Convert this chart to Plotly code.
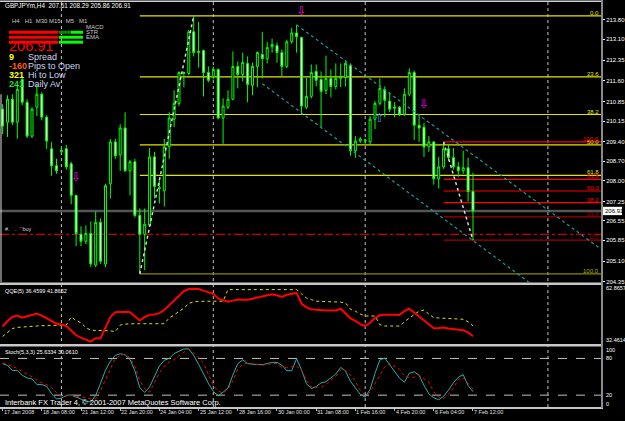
import plotly.graph_objects as go

W, H = 625, 421
def px(x): return x / W
def py(y): return 1 - y / H

FONT = "Liberation Sans, Arial, sans-serif"

# ---------------- data ----------------
bar_index = list(range(97))
open_ = [210.58,210.11,210.94,210.11,211.65,210.83,209.61,210.65,211.12,210.29,
         209.15,208.54,209.05,209.15,208.61,207.47,206.07,205.82,206.10,204.96,
         206.50,205.00,207.89,209.40,208.93,209.90,208.36,208.68,206.75,206.07,
         206.39,208.86,207.75,207.64,209.22,210.22,210.79,211.90,211.87,213.37,
         212.62,212.69,211.90,211.76,212.01,210.26,210.65,210.94,212.12,211.83,
         212.23,211.44,212.12,212.55,212.40,212.83,212.87,212.62,212.12,213.01,
         213.33,213.16,210.65,211.04,211.94,211.65,211.26,211.69,211.40,211.69,
         211.72,212.15,209.08,209.43,209.43,209.40,210.22,210.79,211.29,210.87,
         210.61,210.65,210.40,211.12,211.90,210.00,209.93,209.22,209.40,208.07,
         208.50,209.15,208.83,208.50,208.36,208.47,207.61]
high_ = [210.76,211.08,211.12,211.47,211.76,210.94,210.65,211.47,211.19,210.36,
         209.40,208.79,209.20,209.29,208.68,207.50,206.36,206.39,206.53,206.89,
         206.64,207.89,209.51,209.51,210.04,210.47,208.75,208.79,207.00,207.00,
         209.18,209.04,208.07,209.51,210.47,211.26,211.94,211.94,213.44,213.94,
         213.73,212.73,212.12,212.12,212.05,210.97,211.26,212.66,212.30,212.62,
         212.48,212.26,212.66,213.37,213.01,213.12,212.98,212.73,213.08,213.51,
         213.62,213.19,211.72,212.19,212.19,211.94,212.51,212.01,212.23,212.23,
         212.30,212.23,209.61,209.58,209.51,210.33,210.87,211.69,211.40,211.19,
         210.83,210.69,211.33,212.05,211.97,210.40,210.08,209.61,209.43,208.86,
         209.40,209.33,209.18,208.68,209.08,208.83,208.29]
low_ = [209.68,209.58,210.00,209.51,210.72,209.54,209.54,210.33,210.18,209.15,
        208.18,208.25,208.97,208.40,207.15,205.64,205.64,205.71,204.89,204.89,
        205.00,204.89,207.36,208.79,208.36,208.32,207.47,206.68,204.64,204.78,
        206.36,207.36,207.18,207.07,208.79,209.93,210.69,211.37,211.80,212.48,
        212.08,211.04,211.55,211.65,210.22,209.33,210.58,210.90,211.33,211.58,
        210.83,211.08,211.37,211.69,212.23,212.62,212.26,211.76,212.05,212.94,
        212.62,210.40,210.58,210.97,211.40,209.93,211.12,211.01,211.29,211.37,
        211.40,208.90,208.83,209.36,209.33,209.29,209.86,210.72,210.29,210.47,
        210.29,210.33,210.33,211.04,209.47,209.40,208.86,209.04,207.86,207.72,
        208.43,208.72,208.40,208.14,208.25,207.25,205.86]
close_ = [209.97,210.94,210.11,211.29,210.83,209.61,210.58,211.12,210.29,209.43,
          208.54,208.36,209.10,208.50,207.47,206.10,205.82,206.10,205.00,206.50,
          205.10,207.82,209.40,208.90,209.90,208.36,208.68,206.75,206.07,206.43,
          208.86,207.79,207.72,209.22,210.26,210.79,211.90,211.87,213.37,212.62,
          212.66,211.90,211.62,212.01,210.26,210.69,210.94,212.12,211.83,212.26,
          211.47,212.12,212.62,212.40,212.80,212.91,212.62,212.12,213.01,213.33,
          213.19,210.69,211.04,211.90,211.62,211.22,211.69,211.40,211.69,211.76,
          212.23,209.08,209.43,209.51,209.47,210.22,210.79,211.33,210.90,210.58,
          210.65,210.40,211.12,211.90,210.00,209.90,209.22,209.40,208.07,208.50,
          209.15,208.83,208.50,208.36,208.47,207.61,206.91]

qqe_rsi = [41.5,44.4,46.5,47.2,46.1,46.8,47.8,48.3,47.2,45.8,
           44.4,43.0,42.6,41.8,39.5,37.0,35.8,34.6,33.7,35.5,
           35.5,41.0,46.5,49.0,49.2,49.2,49.0,47.0,44.7,46.5,
           47.6,47.8,48.5,50.2,52.5,55.0,57.5,60.0,61.0,61.2,
           61.0,60.2,59.5,58.5,56.0,55.0,54.4,55.0,55.6,55.5,
           55.4,56.0,56.5,57.3,57.8,58.3,57.8,56.9,58.0,58.6,
           59.0,53.5,51.5,50.5,50.2,50.0,49.9,49.9,49.9,50.8,
           48.3,45.8,44.5,42.8,41.8,43.5,46.0,47.4,47.7,47.8,
           47.6,47.5,49.5,50.8,48.8,46.5,44.5,42.5,40.7,40.8,
           41.0,40.5,40.1,39.9,39.6,38.5,36.46]
qqe_trail = [36.4,38.4,40.5,41.1,41.3,41.5,41.8,41.9,42.0,42.0,
             42.1,42.2,42.2,42.3,46.5,44.7,43.5,41.0,39.6,39.6,
             39.6,39.6,39.3,38.9,42.3,42.8,43.0,43.0,43.0,43.0,
             43.0,43.0,43.0,43.0,46.0,47.5,49.5,51.0,53.5,54.4,
             54.6,54.7,54.7,54.7,54.7,54.7,60.7,60.7,60.7,60.7,
             60.7,60.7,60.7,60.7,60.7,60.7,60.7,60.7,60.7,60.7,
             60.7,58.5,56.4,55.5,54.7,54.6,54.5,54.4,54.4,54.2,
             53.8,50.5,49.5,48.0,47.0,47.0,47.0,42.5,41.8,41.8,
             41.8,41.8,44.0,46.1,47.8,49.5,50.1,48.0,46.1,46.0,
             45.8,45.6,45.5,45.4,45.3,44.0,41.87]
stoch_main = [71.5,68.5,60.0,60.6,52.5,48.0,46.5,37.5,37.5,34.3,
              22.2,13.8,15.0,19.6,20.5,17.0,14.4,10.0,8.9,19.5,
              39.7,60.9,75.4,85.0,87.6,86.0,78.3,60.0,32.2,24.6,
              33.3,52.0,67.7,77.0,80.0,88.0,92.3,95.4,95.7,85.0,
              70.5,54.6,39.4,26.0,19.0,24.9,31.6,52.9,71.5,77.8,
              71.7,70.5,69.8,69.8,71.6,73.5,73.5,69.0,60.0,60.0,
              79.5,61.4,38.8,30.7,34.1,40.0,42.0,47.6,54.6,65.4,
              59.0,42.6,31.6,21.2,16.7,29.4,55.6,77.5,80.6,70.2,
              58.7,47.9,41.1,55.9,58.3,52.4,36.1,22.0,15.6,12.5,
              18.2,28.0,40.0,49.2,53.5,35.7,25.63]
stoch_signal = [73.0,70.0,67.3,63.8,58.5,54.4,49.9,44.8,40.2,37.1,
                32.4,24.2,17.3,18.7,19.4,18.2,16.5,14.9,14.0,14.0,
                27.6,45.5,63.3,79.9,84.6,87.3,81.0,66.3,44.2,30.3,
                24.9,40.6,56.4,67.3,74.0,78.1,84.3,90.4,94.8,89.1,
                81.0,72.1,54.3,35.7,26.7,23.2,30.3,43.0,63.4,70.1,
                72.8,71.2,70.2,68.9,70.3,71.9,71.4,65.4,65.4,66.0,
                67.3,61.0,44.4,33.0,33.0,33.0,37.7,43.5,50.6,61.9,
                60.1,53.0,42.8,27.4,20.2,24.9,38.3,50.8,66.5,71.8,
                67.7,62.3,51.4,49.2,49.2,52.8,46.2,41.4,25.6,16.7,
                14.4,21.2,31.9,45.5,48.7,40.2,30.06]

date_label_bars = [0, 8, 16, 24, 32, 40, 48, 56, 64, 72, 80, 88, 96]
date_labels = ["17 Jan 2008", "18 Jan 08:00", "21 Jan 12:00", "22 Jan 20:00",
               "24 Jan 04:00", "25 Jan 12:00", "28 Jan 16:00", "30 Jan 00:00",
               "31 Jan 08:00", "1 Feb 16:00", "4 Feb 20:00", "6 Feb 04:00", "7 Feb 12:00"]
price_ticks = [213.80, 213.10, 212.35, 211.60, 210.85, 210.15, 209.40, 208.70,
               208.00, 207.25, 206.55, 205.85, 205.10, 204.35]

fib_levels = [0.0, 23.6, 38.2, 50.0, 61.8, 100.0]
fib_main_bars = [28, 39]
fib_main_prices = [204.64, 213.94]
fib_small_bars = [90, 96]
fib_small_prices = [209.40, 205.86]

channel_upper_bars = [60, 122.3]
channel_upper_prices = [213.62, 205.51]
channel_lower_bars = [53, 110]
channel_lower_prices = [211.50, 204.00]

separator_bars = [12, 43, 74, 111.3]
bid_price = 206.91
buy_level = 206.07
down_arrow_bars = [15, 61, 86]
down_arrow_prices = [208.11, 214.09, 210.72]
up_arrow_bars = [77]
up_arrow_prices = [210.22]

qqe_max, qqe_min = 62.8657, 32.4614

# ---------------- geometry ----------------
XMIN, XMAX = -0.53, 122.33
XDOM = [0, px(602)]
Y_MAIN = [py(284), py(2)]
Y_QQE = [py(346.5), py(287.5)]
Y_STO = [py(410.3), py(348.7)]

fig = go.Figure()

# candles
fig.add_trace(go.Candlestick(
    x=bar_index, open=open_, high=high_, low=low_, close=close_,
    increasing=dict(line=dict(color="#00ff00", width=1), fillcolor="#000000"),
    decreasing=dict(line=dict(color="#00ff00", width=1), fillcolor="#ffffff"),
    whiskerwidth=0, xaxis="x", yaxis="y", showlegend=False, hoverinfo="skip"))

# fib zigzag lines
fig.add_trace(go.Scatter(x=fib_main_bars, y=fib_main_prices, mode="lines",
                         line=dict(color="#d8d8d8", width=1.5, dash="dot"),
                         xaxis="x", yaxis="y", showlegend=False, hoverinfo="skip"))
fig.add_trace(go.Scatter(x=fib_small_bars, y=fib_small_prices, mode="lines",
                         line=dict(color="#d8d8d8", width=1.5, dash="dot"),
                         xaxis="x", yaxis="y", showlegend=False, hoverinfo="skip"))
# channel
for bx, by in [(channel_upper_bars, channel_upper_prices), (channel_lower_bars, channel_lower_prices)]:
    fig.add_trace(go.Scatter(x=bx, y=by, mode="lines",
                             line=dict(color="#1a9c9c", width=1.2, dash="dot"),
                             xaxis="x", yaxis="y", showlegend=False, hoverinfo="skip"))
# arrows
fig.add_trace(go.Scatter(x=down_arrow_bars, y=down_arrow_prices, mode="text",
                         text=["⇩"] * len(down_arrow_bars),
                         textfont=dict(family="DejaVu Sans", size=12, color="#ff00ff"),
                         xaxis="x", yaxis="y", showlegend=False, hoverinfo="skip"))
fig.add_trace(go.Scatter(x=up_arrow_bars, y=up_arrow_prices, mode="text",
                         text=["⇧"] * len(up_arrow_bars),
                         textfont=dict(family="DejaVu Sans", size=12, color="#2f8cff"),
                         xaxis="x", yaxis="y", showlegend=False, hoverinfo="skip"))

# QQE
fig.add_trace(go.Scatter(x=bar_index, y=qqe_trail, mode="lines",
                         line=dict(color="#e0e000", width=1, dash="dot"),
                         xaxis="x2", yaxis="y2", showlegend=False, hoverinfo="skip"))
fig.add_trace(go.Scatter(x=bar_index, y=qqe_rsi, mode="lines",
                         line=dict(color="#ff0000", width=2),
                         xaxis="x2", yaxis="y2", showlegend=False, hoverinfo="skip"))
# Stoch
fig.add_trace(go.Scatter(x=bar_index, y=stoch_main, mode="lines",
                         line=dict(color="#20b2aa", width=1),
                         xaxis="x3", yaxis="y3", showlegend=False, hoverinfo="skip"))
fig.add_trace(go.Scatter(x=bar_index, y=stoch_signal, mode="lines",
                         line=dict(color="#ff0000", width=1, dash="dot"),
                         xaxis="x3", yaxis="y3", showlegend=False, hoverinfo="skip"))

shapes = []
annotations = []

def ann(x, y, text, color="#ffffff", size=6, xanchor="left", yanchor="middle",
        xref="paper", yref="paper", bold=False, family=FONT, yshift=0, bg=None):
    a = dict(x=x, y=y, xref=xref, yref=yref, text=("<b>%s</b>" % text) if bold else text,
             showarrow=False, xanchor=xanchor, yanchor=yanchor, yshift=yshift,
             font=dict(family=family, size=size, color=color), borderpad=0)
    if bg:
        a["bgcolor"] = bg
    annotations.append(a)

# vertical period separators
for b in separator_bars:
    shapes.append(dict(type="line", xref="x", yref="paper", x0=b, x1=b, y0=py(410), y1=py(2),
                       line=dict(color="#c8c8c8", width=1, dash="dot"), layer="below"))

# bid line and buy line
shapes.append(dict(type="line", xref="paper", yref="y", x0=0, x1=px(602), y0=bid_price, y1=bid_price,
                   line=dict(color="#555555", width=2.5), layer="below"))
shapes.append(dict(type="line", xref="paper", yref="y", x0=0, x1=px(602), y0=buy_level, y1=buy_level,
                   line=dict(color="#ff0000", width=1.1, dash="dashdot"), layer="below"))

# main fibonacci (yellow)
f_lo, f_hi = fib_main_prices
for lv in fib_levels:
    p = f_hi - (f_hi - f_lo) * lv / 100.0
    col = "#8a8a00" if lv == 100.0 else "#e4e400"
    shapes.append(dict(type="line", xref="x", yref="y", x0=fib_main_bars[0], x1=XMAX, y0=p, y1=p,
                       line=dict(color=col, width=1.2), layer="below"))
    ann(122.0, p, "%.1f" % lv, color=("#b0b000" if lv == 100.0 else "#e4e400"), size=6,
        xanchor="right", yanchor="bottom", xref="x", yref="y", yshift=-1)

# small fibonacci (red)
s_hi, s_lo = fib_small_prices
for lv in fib_levels:
    p = s_lo + (s_hi - s_lo) * lv / 100.0
    col = "#a00000" if lv in (0.0, 23.6) else "#ff0000"
    shapes.append(dict(type="line", xref="x", yref="y", x0=fib_small_bars[0], x1=XMAX, y0=p, y1=p,
                       line=dict(color=col, width=1.2), layer="below"))
    ann(122.0, p, "%.1f" % lv, color=col, size=6, xanchor="right", yanchor="bottom",
        xref="x", yref="y", yshift=-1)

# stoch levels
for lv in (20, 80):
    shapes.append(dict(type="line", xref="paper", yref="y3", x0=0, x1=px(602), y0=lv, y1=lv,
                       line=dict(color="#c0c0c0", width=1, dash="dash"), layer="below"))

# frame lines
shapes.append(dict(type="line", xref="paper", yref="paper", x0=0, x1=px(602), y0=py(1.2), y1=py(1.2),
                   line=dict(color="#d0d0d0", width=1.5)))
for yy in (285.8, 347.8):
    shapes.append(dict(type="line", xref="paper", yref="paper", x0=0, x1=px(602), y0=py(yy), y1=py(yy),
                       line=dict(color="#c8c8c8", width=2.5)))
shapes.append(dict(type="line", xref="paper", yref="paper", x0=0, x1=px(603), y0=py(410.9), y1=py(410.9),
                   line=dict(color="#c8c8c8", width=2)))
shapes.append(dict(type="line", xref="paper", yref="paper", x0=px(602), x1=px(602), y0=py(411), y1=py(0),
                   line=dict(color="#8a8a8a", width=2)))
shapes.append(dict(type="line", xref="paper", yref="paper", x0=px(1), x1=px(1), y0=py(284), y1=py(95),
                   line=dict(color="#e0e0e0", width=1)))

# top-left info panel
ann(px(4), py(6), "GBPJPYm,H4  207.61 208.29 205.86 206.91", size=6.3)
ann(px(11), py(21), "H4&nbsp;&nbsp;&nbsp;H1&nbsp;&nbsp;M30&nbsp;M15&nbsp;&nbsp;&nbsp;M5&nbsp;&nbsp;&nbsp;M1", color="#c8c8c8", size=6)
for i, yy in enumerate((31, 36, 41)):
    shapes.append(dict(type="rect", xref="paper", yref="paper", x0=px(9), x1=px(58.5),
                       y0=py(yy + 3), y1=py(yy), fillcolor="#ff0000", line=dict(width=0)))
    if i == 0:
        shapes.append(dict(type="rect", xref="paper", yref="paper", x0=px(59), x1=px(71),
                           y0=py(yy + 3), y1=py(yy), fillcolor="#008a00", line=dict(width=0)))
        shapes.append(dict(type="rect", xref="paper", yref="paper", x0=px(71), x1=px(83),
                           y0=py(yy + 3), y1=py(yy), fillcolor="#00ff00", line=dict(width=0)))
    else:
        shapes.append(dict(type="rect", xref="paper", yref="paper", x0=px(59), x1=px(83),
                           y0=py(yy + 3), y1=py(yy), fillcolor="#00ff00", line=dict(width=0)))
ann(px(85), py(27), "MACD", color="#c8c8c8", size=6)
ann(px(85), py(32), "STR", color="#c8c8c8", size=6)
ann(px(85), py(37), "EMA", color="#c8c8c8", size=6)
ann(px(8), py(46.5), "206.91", color="#ff0000", size=14.5)
info_rows = [("9", "#ffff00", "Spread", 57.5), ("-160", "#ff5a1a", "Pips to Open", 66.5),
             ("321", "#ffff00", "Hi to Low", 75.5), ("241", "#22dd22", "Daily Av", 84.5)]
for num, col, label, yy in info_rows:
    ann(px(8), py(yy), num, color=col, size=9, bold=True)
    ann(px(27), py(yy), label, color="#ccd4f0", size=9)

ann(px(4), py(231), "#.&nbsp;&nbsp;&nbsp;.&nbsp;&nbsp;¨¨buy", color="#d0d0d0", size=5.5)

# indicator headers and footer
ann(px(4), py(293), "QQE(5) 36.4599 41.8652", size=5.5)
ann(px(4), py(355), "Stoch(5,3,3) 25.6334 30.0610", size=5.5)
ann(px(4), py(405), "Interbank FX Trader 4, © 2001-2007 MetaQuotes Software Corp.", size=7.5)

# right labels of sub windows
ann(px(605), py(290.3), "%.4f" % qqe_max, size=5.5)
ann(px(605), py(342.7), "%.4f" % qqe_min, size=5.5)
for lab, yy in (("100", 353), ("80", 361), ("20", 398), ("0", 407)):
    ann(px(605), py(yy), lab, size=5.5)

# current price box
shapes.append(dict(type="rect", xref="paper", yref="y", x0=px(603), x1=px(622),
                   y0=bid_price - 0.15, y1=bid_price + 0.15, fillcolor="#ffffff", line=dict(width=0)))
ann(px(604), bid_price, "%.2f" % bid_price, color="#000000", size=6, yref="y")

# date labels
for b, lab in zip(date_label_bars, date_labels):
    ann(b, py(414.5), lab, color="#e0e0e0", size=5.5, xref="x3", xanchor="left")

axis_common = dict(range=[XMIN, XMAX], domain=XDOM, showgrid=False, zeroline=False,
                   showticklabels=False, showline=False)

fig.update_layout(
    width=W, height=H, autosize=False,
    margin=dict(l=0, r=0, t=0, b=0),
    paper_bgcolor="#000000", plot_bgcolor="rgba(0,0,0,0)",
    showlegend=False, boxgap=0.42,
    xaxis=dict(axis_common, anchor="y", rangeslider=dict(visible=False)),
    xaxis2=dict(axis_common, anchor="y2", matches="x"),
    xaxis3=dict(axis_common, anchor="y3", matches="x", ticks="outside", ticklen=3,
                tickcolor="#c0c0c0", tickvals=date_label_bars),
    yaxis=dict(domain=Y_MAIN, range=[204.35, 214.444], side="right", anchor="x",
               showgrid=False, zeroline=False, tickvals=price_ticks,
               ticktext=["%.2f" % v for v in price_ticks], ticks="outside", ticklen=2,
               tickcolor="#ffffff", tickfont=dict(family=FONT, size=6, color="#ffffff")),
    yaxis2=dict(domain=Y_QQE, range=[qqe_min, qqe_max], anchor="x2", showgrid=False,
                zeroline=False, showticklabels=False),
    yaxis3=dict(domain=Y_STO, range=[0, 100], anchor="x3", showgrid=False,
                zeroline=False, showticklabels=False),
    shapes=shapes, annotations=annotations,
)

fig.write_html("out.html")
